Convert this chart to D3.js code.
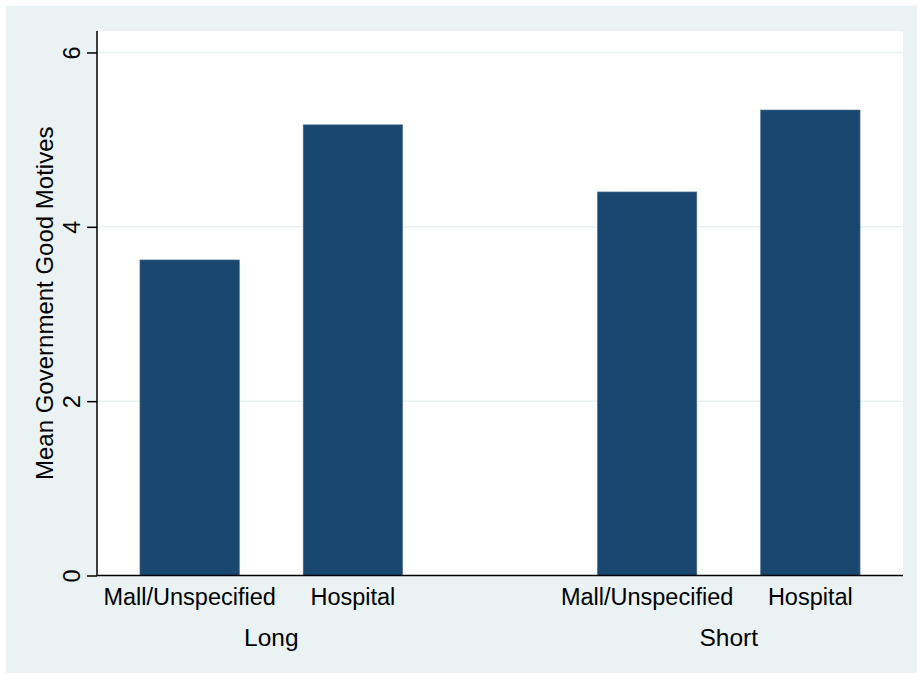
<!DOCTYPE html>
<html>
<head>
<meta charset="utf-8">
<script src="https://cdn.jsdelivr.net/npm/d3@7"></script>
<style>
  body { margin: 0; background: #fff; }
  svg text { font-family: "Liberation Sans", Arial, sans-serif; fill: #000; }
</style>
</head>
<body>
<svg id="chart" width="917" height="673"></svg>
<script>
const groups = ['Long', 'Short'];
const categories = ['Mall/Unspecified', 'Hospital'];
const means = [
  {group: 'Long', cat: 'Mall/Unspecified', value: 3.62},
  {group: 'Long', cat: 'Hospital', value: 5.17},
  {group: 'Short', cat: 'Mall/Unspecified', value: 4.40},
  {group: 'Short', cat: 'Hospital', value: 5.34}
];
const yTicks = [0, 2, 4, 6];

const plot = {left: 97, right: 903, top: 31, bottom: 575.5};

const svg = d3.select('#chart');

// graph region background (stata s2color)
svg.append('rect')
    .attr('x', 6).attr('y', 6)
    .attr('width', 911).attr('height', 667)
    .attr('fill', '#eaf2f3');

svg.append('rect')
    .attr('x', plot.left).attr('y', plot.top)
    .attr('width', plot.right - plot.left).attr('height', plot.bottom - plot.top)
    .attr('fill', '#fff');

const y = d3.scaleLinear().domain([0, 6.25]).range([plot.bottom, plot.bottom - 6.25 * 87.17]);

const x0 = d3.scaleBand().domain(groups)
    .range([plot.left, plot.right])
    .paddingInner(0.4258)
    .paddingOuter(0.0939);

const x1 = d3.scaleBand().domain(categories)
    .range([0, x0.bandwidth()])
    .paddingInner(0.391);

// gridlines
svg.append('g')
  .selectAll('line')
  .data(yTicks.filter(d => d > 0))
  .join('line')
    .attr('x1', plot.left).attr('x2', plot.right)
    .attr('y1', d => y(d)).attr('y2', d => y(d))
    .attr('stroke', '#eaf2f3')
    .attr('stroke-width', 1.5);

// bars
svg.append('g')
  .selectAll('rect')
  .data(means)
  .join('rect')
    .attr('x', d => x0(d.group) + x1(d.cat))
    .attr('y', d => y(d.value))
    .attr('width', x1.bandwidth())
    .attr('height', d => y(0) - y(d.value))
    .attr('fill', '#1a476f')
    .attr('stroke', '#4f6f8f')
    .attr('stroke-width', 0.6);

// y axis
const yAxis = svg.append('g')
    .attr('transform', `translate(${plot.left},0)`)
    .call(d3.axisLeft(y).tickValues(yTicks).tickFormat(d3.format('d')).tickSize(10).tickSizeOuter(0));
yAxis.select('.domain').attr('d', `M0,${plot.top}V${plot.bottom}`).attr('stroke', '#000').attr('stroke-width', 1.5);
yAxis.selectAll('.tick line').attr('stroke', '#000').attr('stroke-width', 1.5);
yAxis.selectAll('.tick text')
    .attr('transform', 'rotate(-90)')
    .attr('x', 0).attr('y', -17).attr('dy', 0)
    .attr('text-anchor', 'middle')
    .style('font-size', '23.5px');

// x axis line
svg.append('line')
    .attr('x1', plot.left).attr('x2', plot.right)
    .attr('y1', plot.bottom).attr('y2', plot.bottom)
    .attr('stroke', '#000').attr('stroke-width', 1.5);

// category labels
svg.append('g')
  .selectAll('text')
  .data(means)
  .join('text')
    .attr('x', d => x0(d.group) + x1(d.cat) + x1.bandwidth() / 2)
    .attr('y', 605)
    .attr('text-anchor', 'middle')
    .style('font-size', '23.5px')
    .text(d => d.cat);

// group labels
svg.append('g')
  .selectAll('text')
  .data(groups)
  .join('text')
    .attr('x', d => x0(d) + x0.bandwidth() / 2)
    .attr('y', 646)
    .attr('text-anchor', 'middle')
    .style('font-size', '24.5px')
    .text(d => d);

// y title
svg.append('text')
    .attr('transform', `translate(53,${(plot.top + plot.bottom) / 2}) rotate(-90)`)
    .attr('text-anchor', 'middle')
    .style('font-size', '24px')
    .text('Mean Government Good Motives');
</script>
</body>
</html>
